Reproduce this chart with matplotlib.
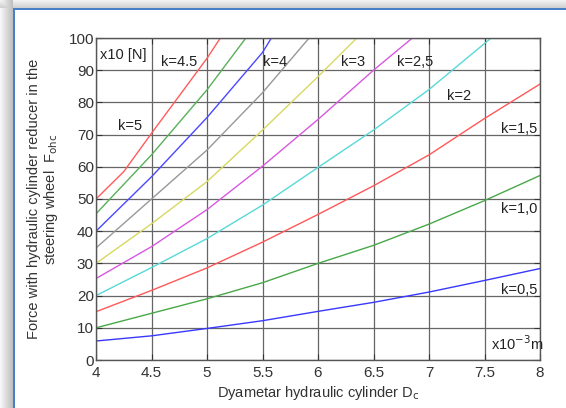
import numpy as np
import matplotlib
matplotlib.use("Agg")
import matplotlib.pyplot as plt

plt.rcParams["font.family"] = ["Liberation Sans", "DejaVu Sans"]

# values (force x10 N vs cylinder diameter x10^-3 m)
d_full = [4, 4.5, 5, 5.5, 6, 6.5, 7, 7.5, 8]
f_k05 = [5.9, 7.5, 9.8, 12.2, 15.1, 17.9, 21.1, 24.7, 28.4]
f_k10 = [10, 14.5, 19, 24, 30, 35.6, 42.2, 49.5, 57.3]
f_k15 = [15, 21.6, 28.6, 36.6, 45.2, 54.1, 63.7, 75, 85.7]
d_k20 = [4, 4.5, 5, 5.5, 6, 6.5, 7, 7.56]
f_k20 = [20, 28.7, 37.7, 48.1, 59.8, 71.4, 84, 100]
d_k25 = [4, 4.5, 5, 5.5, 6, 6.5, 6.85]
f_k25 = [25.3, 35.2, 46.7, 60.2, 74.7, 90, 100]
d_k30 = [4, 4.5, 5, 5.5, 6, 6.35]
f_k30 = [30, 42.3, 55.4, 71.4, 88, 100]
d_k35 = [4, 4.5, 5, 5.5, 5.92]
f_k35 = [34.8, 50, 65.2, 83, 100]
d_k40 = [4, 4.5, 5, 5.5, 5.58]
f_k40 = [40, 56.9, 75.3, 95.5, 100]
d_k45 = [4, 4.5, 5, 5.35]
f_k45 = [45.4, 63.7, 83.9, 100]
d_k50 = [4, 4.25, 4.5, 5, 5.12]
f_k50 = [50, 58.5, 70.4, 93.7, 100]

curves = [
    (d_full, f_k05, "#3838ff"),
    (d_full, f_k10, "#48a848"),
    (d_full, f_k15, "#ff5858"),
    (d_k20, f_k20, "#58d8d8"),
    (d_k25, f_k25, "#d858e0"),
    (d_k30, f_k30, "#d8d860"),
    (d_k35, f_k35, "#989898"),
    (d_k40, f_k40, "#4848ff"),
    (d_k45, f_k45, "#58b058"),
    (d_k50, f_k50, "#ff5c5c"),
]

# k labels: (text, x, y)
k_labels = [
    ("k=5", 4.2, 72.8), ("k=4.5", 4.59, 92.6), ("k=4", 5.5, 92.6),
    ("k=3", 6.21, 92.6), ("k=2,5", 6.71, 92.6), ("k=2", 7.16, 82),
    ("k=1,5", 7.65, 71.7), ("k=1,0", 7.65, 47), ("k=0,5", 7.65, 21.7),
]

fig = plt.figure(figsize=(5.66, 4.08), dpi=100)

# window frame: gray shadow left/top, blue border line
bg = fig.add_axes([0, 0, 1, 1])
W, H = 566, 408
img = np.ones((H, W, 3))
for i in range(8):
    img[i, :, :] = 0.95 - 0.13 * i / 7
for j in range(13):
    img[:, j, :] = np.minimum(img[:, j, :], 0.97 - 0.22 * j / 12)
img[8:10, 13:, :] = [0.29, 0.5, 0.78]
img[8:, 13:15, :] = [0.29, 0.5, 0.78]
bg.imshow(img, extent=[0, W, H, 0], aspect="auto", interpolation="nearest")
bg.axis("off")

ax = fig.add_axes([96 / W, 48 / H, 444 / W, 322 / H])
for d, f, c in curves:
    ax.plot(d, f, color=c, lw=1.0, clip_on=True)

ax.set_xlim(4, 8)
ax.set_ylim(0, 100)
ax.set_xticks(np.arange(4, 8.01, 0.5))
ax.set_xticklabels(["4", "4.5", "5", "5.5", "6", "6.5", "7", "7.5", "8"])
ax.set_yticks(np.arange(0, 101, 10))
ax.grid(True, color="#666666", lw=0.9)
ax.tick_params(direction="in", length=4, top=True, right=True,
               labelsize=11, colors="#333333")
ax.tick_params(axis="x", pad=4)
ax.tick_params(axis="y", pad=1.5)
for s in ax.spines.values():
    s.set_color("#555555")
    s.set_linewidth(1.0)

ax.text(4.04, 94.7, "x10 [N]", fontsize=10.5, color="#222222", va="center")
for t, x, y in k_labels:
    ax.text(x, y, t, fontsize=10.5, color="#222222", va="center")
ax.text(7.56, 5, r"x10$^{-3}$m", fontsize=10.5, color="#222222", va="center")

ax.set_xlabel(r"Dyametar hydraulic cylinder D$_{\rm c}$", fontsize=10.5,
              color="#333333", labelpad=3)
ax.set_ylabel("Force with hydraulic cylinder reducer in the\n"
              r"steering wheel  F$_{\rm ohc}$", fontsize=10.5,
              color="#333333", labelpad=6, linespacing=1.05)

fig.savefig("out.png", dpi=100)
